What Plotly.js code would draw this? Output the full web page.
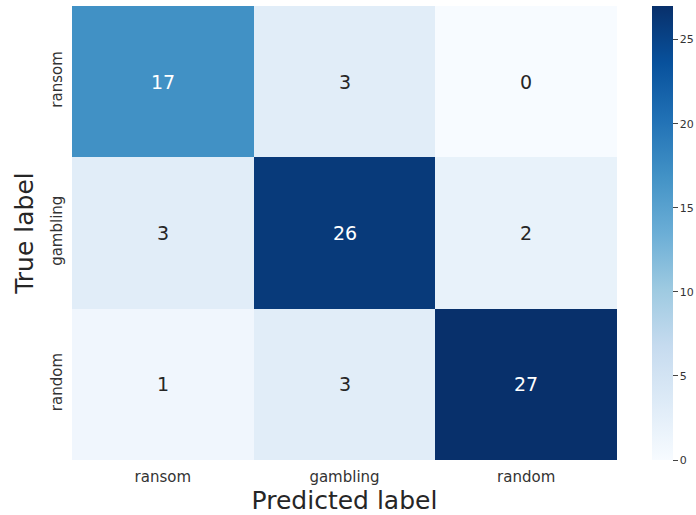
<!DOCTYPE html>
<html>
<head>
<meta charset="utf-8">
<script src="https://cdn.plot.ly/plotly-3.0.1.min.js"></script>
<style>
  html, body { margin: 0; padding: 0; background: #ffffff; }
  #chart { width: 696px; height: 515px; }
</style>
</head>
<body>
<div id="chart"></div>
<script>
// Confusion matrix: rows are true classes, columns are predicted classes
const predictedLabels = ["ransom", "gambling", "random"];
const trueLabels = ["ransom", "gambling", "random"];
const counts = [
  [17, 3, 0],
  [3, 26, 2],
  [1, 3, 27]
];
const colorbarTicks = [0, 5, 10, 15, 20, 25];

// matplotlib "Blues" sequential map
const blues = [
  [0.0, "#f7fbff"], [0.125, "#deebf7"], [0.25, "#c6dbef"],
  [0.375, "#9ecae1"], [0.5, "#6baed6"], [0.625, "#4292c6"],
  [0.75, "#2171b5"], [0.875, "#08519c"], [1.0, "#08306b"]
];

const zmin = 0;
const zmax = Math.max(...counts.flat());
const font = "DejaVu Sans, Verdana, sans-serif";

// cell labels: light text on dark cells, dark text on light cells
const annotations = [];
counts.forEach((row, i) => {
  row.forEach((v, j) => {
    const frac = (v - zmin) / (zmax - zmin);
    annotations.push({
      x: predictedLabels[j], y: trueLabels[i], xref: "x", yref: "y",
      text: String(v), showarrow: false,
      font: { family: font, size: 19, color: frac > 0.55 ? "#ffffff" : "#262626" }
    });
  });
});

const trace = {
  type: "heatmap",
  x: predictedLabels,
  y: trueLabels,
  z: counts,
  zmin: zmin,
  zmax: zmax,
  colorscale: blues,
  xgap: 0, ygap: 0,
  hoverinfo: "skip",
  colorbar: {
    x: 1.064, xanchor: "left",
    y: 0.5, yanchor: "middle",
    len: 1, lenmode: "fraction",
    thickness: 21, thicknessmode: "pixels",
    outlinewidth: 0,
    ticks: "outside", ticklen: 5, tickwidth: 1, tickcolor: "#444",
    tickvals: colorbarTicks,
    tickfont: { family: font, size: 11, color: "#333" },
    xpad: 0, ypad: 0
  }
};

const layout = {
  width: 696, height: 515,
  margin: { l: 72, r: 79, t: 6, b: 55, autoexpand: false },
  paper_bgcolor: "#ffffff",
  plot_bgcolor: "#ffffff",
  font: { family: font, color: "#333" },
  xaxis: {
    type: "category",
    showgrid: false, zeroline: false, showline: false,
    ticks: "", ticklabelstandoff: 6,
    tickfont: { family: font, size: 15, color: "#333" },
    title: { text: "Predicted label", font: { family: font, size: 25, color: "#262626" }, standoff: 6 }
  },
  yaxis: {
    type: "category",
    autorange: "reversed",
    showgrid: false, zeroline: false, showline: false,
    ticks: "", tickangle: -90, ticklabelstandoff: 6,
    tickfont: { family: font, size: 15, color: "#333" },
    title: { text: "True label", font: { family: font, size: 25, color: "#262626" }, standoff: 7 }
  },
  annotations: annotations
};

Plotly.newPlot("chart", [trace], layout, { displayModeBar: false, staticPlot: true });
</script>
</body>
</html>
